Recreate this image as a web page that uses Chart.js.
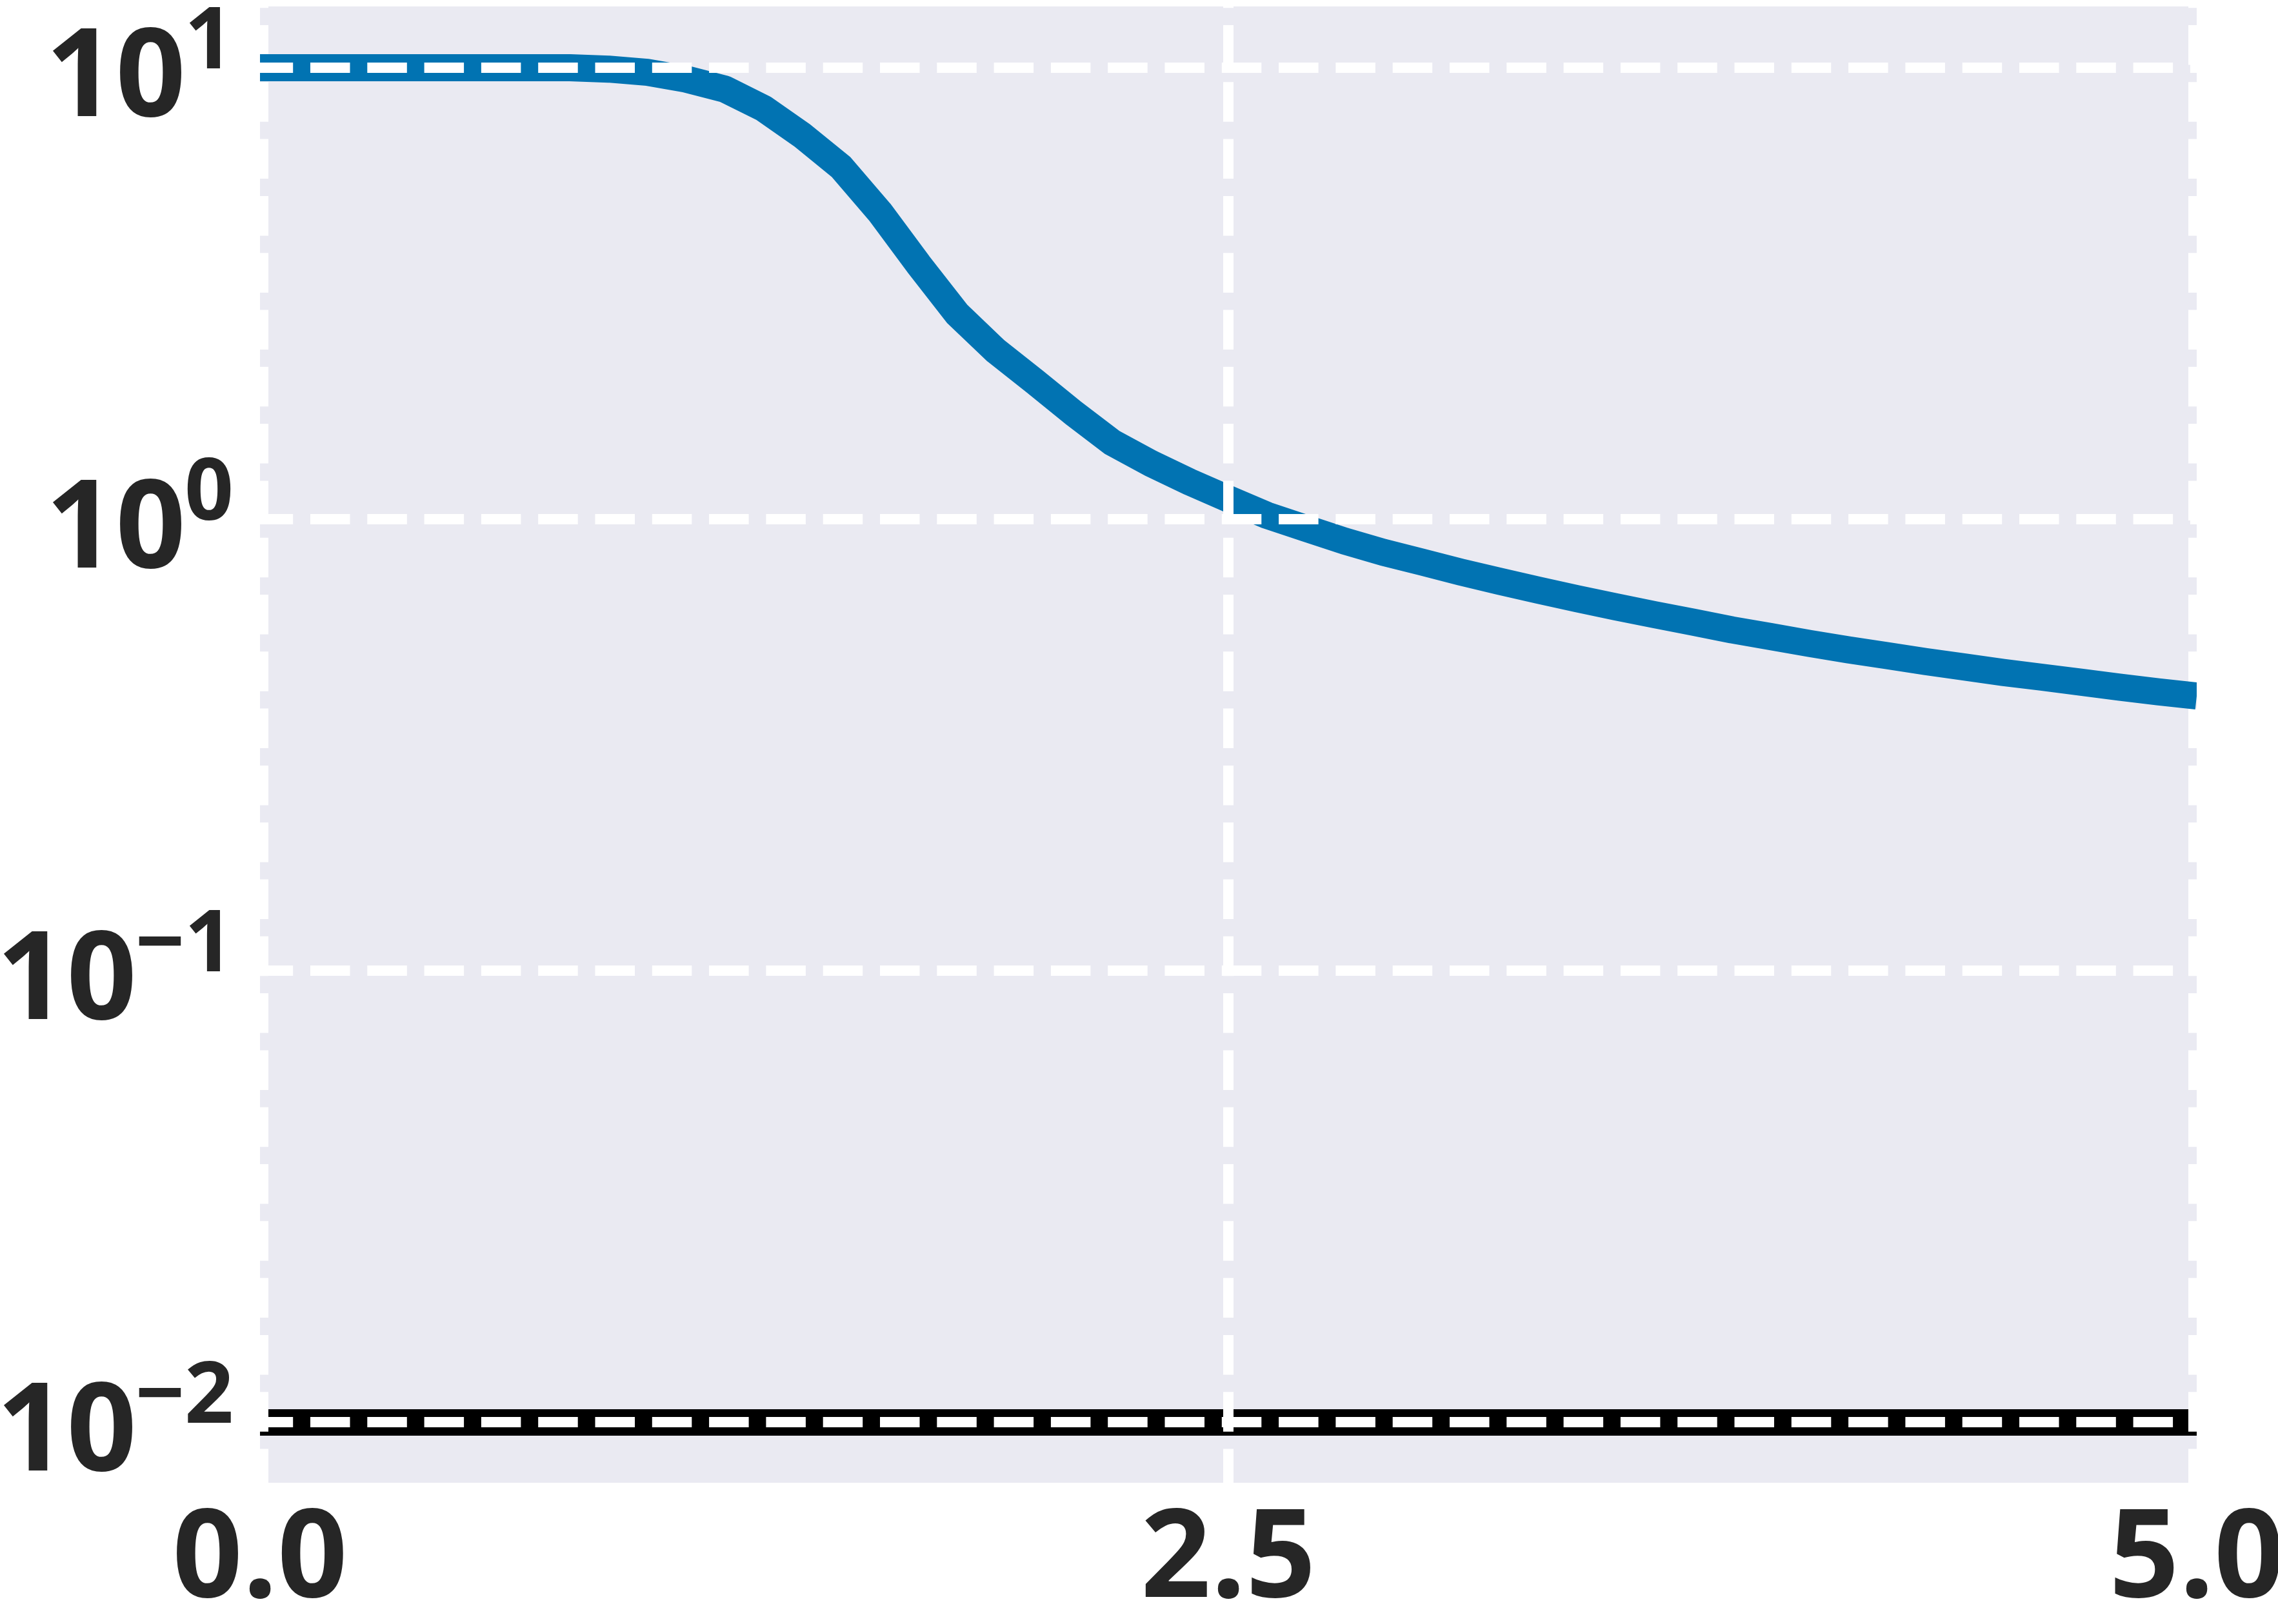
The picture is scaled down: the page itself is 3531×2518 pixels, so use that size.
<!DOCTYPE html>
<html>
<head>
<meta charset="utf-8">
<script src="https://cdn.jsdelivr.net/npm/chart.js@4"></script>
<style>
  html, body { margin: 0; padding: 0; background: #fff; }
  canvas { display: block; }
</style>
</head>
<body>
<canvas id="chart" width="3531" height="2518"></canvas>
<script>
// values
const steps = [
  0.0, 0.1, 0.2, 0.3, 0.4, 0.5, 0.6, 0.7, 0.8, 0.9,
  1.0, 1.1, 1.2, 1.3, 1.4, 1.5, 1.6, 1.7, 1.8, 1.9,
  2.0, 2.1, 2.2, 2.3, 2.4, 2.5, 2.6, 2.7, 2.8, 2.9,
  3.0, 3.1, 3.2, 3.3, 3.4, 3.5, 3.6, 3.7, 3.8, 3.9,
  4.0, 4.1, 4.2, 4.3, 4.4, 4.5, 4.6, 4.7, 4.8, 4.9, 5.0,
];
const lossValues = [
  10.0, 10.0, 10.0, 10.0, 10.0, 10.0, 10.0, 10.0, 10.0, 9.93,
  9.77, 9.44, 8.97, 8.13, 7.08, 6.03, 4.79, 3.67, 2.85, 2.36,
  2.02, 1.72, 1.48, 1.33, 1.21, 1.11, 1.02, 0.955, 0.895, 0.845,
  0.804, 0.764, 0.729, 0.697, 0.667, 0.64, 0.615, 0.592, 0.569, 0.55,
  0.531, 0.514, 0.499, 0.484, 0.471, 0.458, 0.447, 0.436, 0.425, 0.415, 0.406,
];
const thresholdX = [0, 5];
const thresholdY = [0.01, 0.01];

const xTicks = [0, 2.5, 5];
const xTickLabels = ["0.0", "2.5", "5.0"];
const yTicks = [0.01, 0.1, 1, 10];
const yTickExponents = ["\u22122", "\u22121", "0", "1"];

const FACE = "#EAEAF2";
const INK = "#262626";
const GRID_DASH = [61.5, 26.8];
const FONT_MAIN = "700 190px 'Open Sans'";
const FONT_SUP = "700 133px 'Open Sans'";

// white dashed strips on the left/right edges of the plot
function drawEdgeStrips(chart) {
  const { ctx, chartArea: a } = chart;
  ctx.save();
  ctx.strokeStyle = "#fff";
  ctx.lineWidth = 13;
  ctx.setLineDash(GRID_DASH);
  ctx.lineDashOffset = 59.3;
  [a.left + 6.5, a.right - 6.5].forEach((x) => {
    ctx.beginPath();
    ctx.moveTo(x, a.top);
    ctx.lineTo(x, a.bottom);
    ctx.stroke();
  });
  ctx.restore();
}

const plotFace = {
  id: "plotFace",
  beforeDraw(chart) {
    const { ctx, chartArea: a } = chart;
    ctx.save();
    ctx.fillStyle = FACE;
    ctx.fillRect(a.left, a.top, a.right - a.left, a.bottom - a.top);
    ctx.restore();
  },
  afterDatasetDraw(chart, args) {
    // strips sit above the black line but below the blue one
    if (args.index === 1) drawEdgeStrips(chart);
  },
};

const tickText = {
  id: "tickText",
  afterDraw(chart) {
    const { ctx, chartArea: a } = chart;
    const xs = chart.scales.x;
    const ys = chart.scales.y;
    const right = a.left - 41;
    ctx.save();
    ctx.fillStyle = INK;
    ctx.textBaseline = "alphabetic";
    ctx.textAlign = "left";
    yTicks.forEach((v, i) => {
      const py = ys.getPixelForValue(v);
      ctx.font = FONT_SUP;
      const supW = ctx.measureText(yTickExponents[i]).width;
      ctx.fillText(yTickExponents[i], right - supW, py + 1);
      ctx.font = FONT_MAIN;
      const baseW = ctx.measureText("10").width;
      ctx.fillText("10", right - supW - baseW + 2, py + 75);
    });
    ctx.textAlign = "center";
    ctx.font = FONT_MAIN;
    xTicks.forEach((v, i) => {
      ctx.fillText(xTickLabels[i], xs.getPixelForValue(v), 2476);
    });
    ctx.restore();
  },
};

function makeChart() {
  const el = document.getElementById("chart");
  new Chart(el, {
    type: "line",
    data: {
      datasets: [
        {
          label: "loss",
          data: steps.map((x, i) => ({ x: x, y: lossValues[i] })),
          borderColor: "#0173B2",
          borderWidth: 42,
          borderJoinStyle: "round",
          pointRadius: 0,
          tension: 0,
          order: 1,
        },
        {
          label: "threshold",
          data: thresholdX.map((x, i) => ({ x: x, y: thresholdY[i] })),
          borderColor: "#000",
          borderWidth: 41,
          pointRadius: 0,
          order: 2,
        },
      ],
    },
    plugins: [plotFace, tickText],
    options: {
      responsive: false,
      animation: false,
      devicePixelRatio: 1,
      layout: { padding: { left: 403, right: 126, top: 10, bottom: 219 } },
      plugins: {
        legend: { display: false },
        tooltip: { enabled: false },
      },
      scales: {
        x: {
          type: "linear",
          min: 0,
          max: 5,
          afterBuildTicks: (axis) => {
            axis.ticks = xTicks.map((v) => ({ value: v }));
          },
          ticks: { display: false },
          grid: {
            z: 1,
            drawTicks: false,
            lineWidth: 16,
            color: (c) => (c.tick && c.tick.value === 2.5 ? "#fff" : "rgba(0,0,0,0)"),
            borderDash: GRID_DASH,
            borderDashOffset: 59.3,
          },
          border: { display: false, dash: GRID_DASH, dashOffset: 59.3 },
        },
        y: {
          type: "logarithmic",
          min: 0.00735,
          max: 13.67,
          afterBuildTicks: (axis) => {
            axis.ticks = yTicks.map((v) => ({ value: v }));
          },
          ticks: { display: false },
          grid: {
            z: 1,
            drawTicks: false,
            lineWidth: 16,
            color: "#fff",
            borderDash: GRID_DASH,
            borderDashOffset: 10.3,
          },
          border: { display: false, dash: GRID_DASH, dashOffset: 10.3 },
        },
      },
    },
  });
}

document.fonts.load(FONT_MAIN).then(makeChart, makeChart);
</script>
</body>
</html>
